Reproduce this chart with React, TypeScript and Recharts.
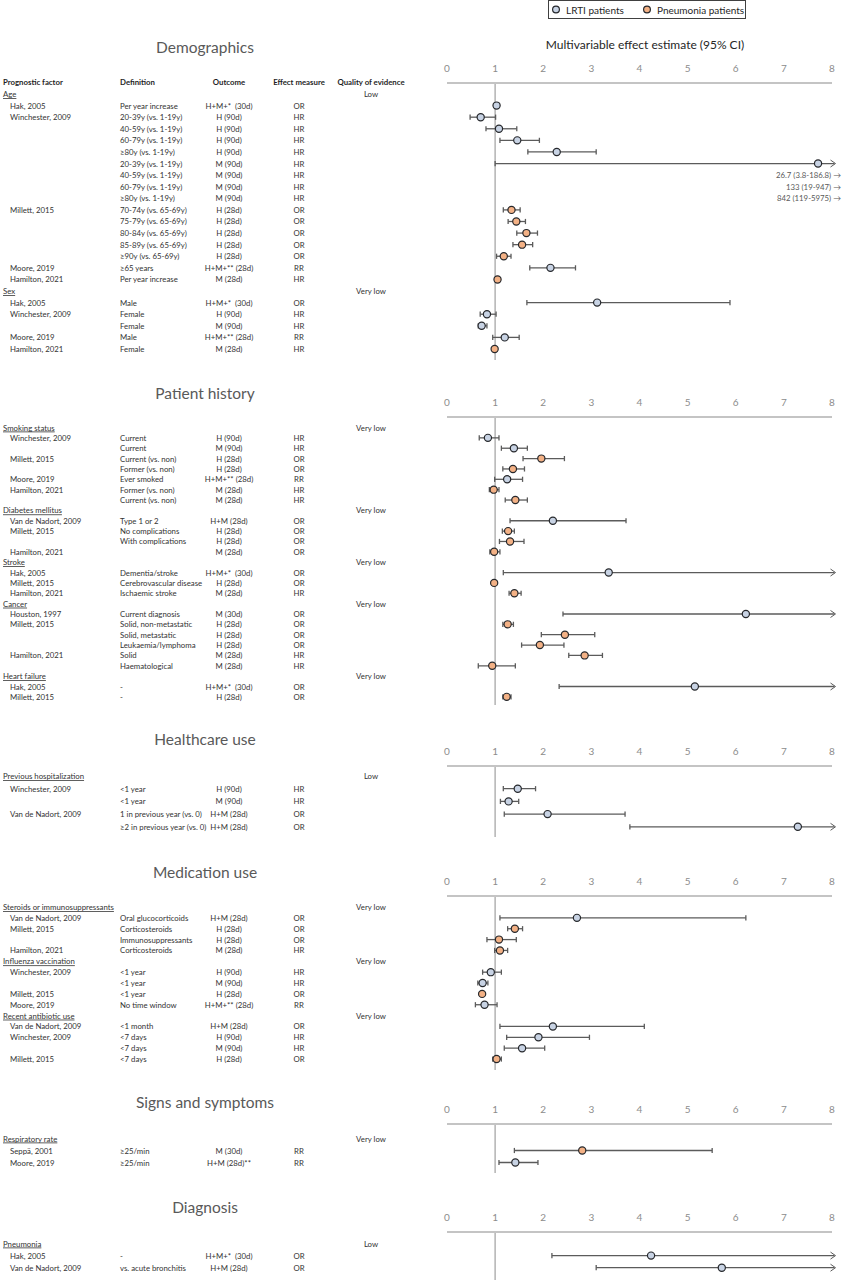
import React from "react";
import { ScatterChart, Scatter, XAxis, YAxis, ReferenceLine } from "recharts";

type Row = {
  h?: string; // group header (prognostic factor)
  q?: string; // quality of evidence
  s?: string; // study
  d?: string; // definition
  o?: string; // outcome
  m?: string; // effect measure
  g?: "lrti" | "pneu";
  est?: number;
  lo?: number;
  hi?: number | null; // null = upper limit beyond the axis
};

const X_TICKS = [0, 1, 2, 3, 4, 5, 6, 7, 8];
const X_MAX = 8;
const FONT = "Lato, 'Open Sans', sans-serif";
const FILL = { lrti: "#c8d3e4", pneu: "#f3b185" };
const INK = "#333333";

const demographicsRows: Row[] = [
  { h: "Age", q: "Low" },
  { s: "Hak, 2005", d: "Per year increase", o: "H+M+*  (30d)", m: "OR", g: "lrti", est: 1.03, lo: 1.02, hi: 1.04 },
  { s: "Winchester, 2009", d: "20-39y (vs. 1-19y)", o: "H (90d)", m: "HR", g: "lrti", est: 0.7, lo: 0.48, hi: 1.01 },
  { d: "40-59y (vs. 1-19y)", o: "H (90d)", m: "HR", g: "lrti", est: 1.08, lo: 0.81, hi: 1.45 },
  { d: "60-79y (vs. 1-19y)", o: "H (90d)", m: "HR", g: "lrti", est: 1.46, lo: 1.1, hi: 1.92 },
  { d: "≥80y (vs. 1-19y)", o: "H (90d)", m: "HR", g: "lrti", est: 2.28, lo: 1.68, hi: 3.1 },
  { d: "20-39y (vs. 1-19y)", o: "M (90d)", m: "HR", g: "lrti", est: 7.71, lo: 1.0, hi: null },
  { d: "40-59y (vs. 1-19y)", o: "M (90d)", m: "HR", g: "lrti", est: 26.7, lo: 3.8, hi: 186.8 },
  { d: "60-79y (vs. 1-19y)", o: "M (90d)", m: "HR", g: "lrti", est: 133, lo: 19, hi: 947 },
  { d: "≥80y (vs. 1-19y)", o: "M (90d)", m: "HR", g: "lrti", est: 842, lo: 119, hi: 5975 },
  { s: "Millett, 2015", d: "70-74y (vs. 65-69y)", o: "H (28d)", m: "OR", g: "pneu", est: 1.34, lo: 1.17, hi: 1.52 },
  { d: "75-79y (vs. 65-69y)", o: "H (28d)", m: "OR", g: "pneu", est: 1.44, lo: 1.27, hi: 1.63 },
  { d: "80-84y (vs. 65-69y)", o: "H (28d)", m: "OR", g: "pneu", est: 1.65, lo: 1.45, hi: 1.88 },
  { d: "85-89y (vs. 65-69y)", o: "H (28d)", m: "OR", g: "pneu", est: 1.56, lo: 1.37, hi: 1.78 },
  { d: "≥90y (vs. 65-69y)", o: "H (28d)", m: "OR", g: "pneu", est: 1.18, lo: 1.03, hi: 1.33 },
  { s: "Moore, 2019", d: "≥65 years", o: "H+M+** (28d)", m: "RR", g: "lrti", est: 2.15, lo: 1.72, hi: 2.67 },
  { s: "Hamilton, 2021", d: "Per year increase", o: "M (28d)", m: "HR", g: "pneu", est: 1.05, lo: 1.04, hi: 1.06 },
  { h: "Sex", q: "Very low" },
  { s: "Hak, 2005", d: "Male", o: "H+M+*  (30d)", m: "OR", g: "lrti", est: 3.12, lo: 1.66, hi: 5.88 },
  { s: "Winchester, 2009", d: "Female", o: "H (90d)", m: "HR", g: "lrti", est: 0.83, lo: 0.69, hi: 1.02 },
  { d: "Female", o: "M (90d)", m: "HR", g: "lrti", est: 0.72, lo: 0.65, hi: 0.83 },
  { s: "Moore, 2019", d: "Male", o: "H+M+** (28d)", m: "RR", g: "lrti", est: 1.2, lo: 0.95, hi: 1.5 },
  { s: "Hamilton, 2021", d: "Female", o: "M (28d)", m: "HR", g: "pneu", est: 0.99, lo: 0.96, hi: 1.03 },
];

const historyRows: Row[] = [
  { h: "Smoking status", q: "Very low" },
  { s: "Winchester, 2009", d: "Current", o: "H (90d)", m: "HR", g: "lrti", est: 0.85, lo: 0.67, hi: 1.08 },
  { d: "Current", o: "M (90d)", m: "HR", g: "lrti", est: 1.39, lo: 1.13, hi: 1.67 },
  { s: "Millett, 2015", d: "Current (vs. non)", o: "H (28d)", m: "OR", g: "pneu", est: 1.96, lo: 1.58, hi: 2.44 },
  { d: "Former (vs. non)", o: "H (28d)", m: "OR", g: "pneu", est: 1.37, lo: 1.16, hi: 1.61 },
  { s: "Moore, 2019", d: "Ever smoked", o: "H+M+** (28d)", m: "RR", g: "lrti", est: 1.25, lo: 0.99, hi: 1.57 },
  { s: "Hamilton, 2021", d: "Former (vs. non)", o: "M (28d)", m: "HR", g: "pneu", est: 0.97, lo: 0.88, hi: 1.08 },
  { d: "Current (vs. non)", o: "M (28d)", m: "HR", g: "pneu", est: 1.42, lo: 1.21, hi: 1.67 },
  { h: "Diabetes mellitus", q: "Very low" },
  { s: "Van de Nadort, 2009", d: "Type 1 or 2", o: "H+M (28d)", m: "OR", g: "lrti", est: 2.2, lo: 1.31, hi: 3.72 },
  { s: "Millett, 2015", d: "No complications", o: "H (28d)", m: "OR", g: "pneu", est: 1.27, lo: 1.15, hi: 1.4 },
  { d: "With complications", o: "H (28d)", m: "OR", g: "pneu", est: 1.31, lo: 1.09, hi: 1.6 },
  { s: "Hamilton, 2021", d: "", o: "M (28d)", m: "OR", g: "pneu", est: 0.98, lo: 0.89, hi: 1.1 },
  { h: "Stroke", q: "Very low" },
  { s: "Hak, 2005", d: "Dementia/stroke", o: "H+M+*  (30d)", m: "OR", g: "lrti", est: 3.36, lo: 1.17, hi: null },
  { s: "Millett, 2015", d: "Cerebrovascular disease", o: "H (28d)", m: "OR", g: "pneu", est: 0.98, lo: 0.93, hi: 1.03 },
  { s: "Hamilton, 2021", d: "Ischaemic stroke", o: "M (28d)", m: "HR", g: "pneu", est: 1.4, lo: 1.29, hi: 1.54 },
  { h: "Cancer", q: "Very low" },
  { s: "Houston, 1997", d: "Current diagnosis", o: "M (30d)", m: "OR", g: "lrti", est: 6.21, lo: 2.41, hi: null },
  { s: "Millett, 2015", d: "Solid, non-metastatic", o: "H (28d)", m: "OR", g: "pneu", est: 1.26, lo: 1.16, hi: 1.38 },
  { d: "Solid, metastatic", o: "H (28d)", m: "OR", g: "pneu", est: 2.45, lo: 1.96, hi: 3.07 },
  { d: "Leukaemia/lymphoma", o: "H (28d)", m: "OR", g: "pneu", est: 1.93, lo: 1.55, hi: 2.43 },
  { s: "Hamilton, 2021", d: "Solid", o: "M (28d)", m: "HR", g: "pneu", est: 2.86, lo: 2.53, hi: 3.23 },
  { d: "Haematological", o: "M (28d)", m: "HR", g: "pneu", est: 0.94, lo: 0.65, hi: 1.42 },
  { h: "Heart failure", q: "Very low" },
  { s: "Hak, 2005", d: "-", o: "H+M+*  (30d)", m: "OR", g: "lrti", est: 5.15, lo: 2.33, hi: null },
  { s: "Millett, 2015", d: "-", o: "H (28d)", m: "OR", g: "pneu", est: 1.24, lo: 1.16, hi: 1.33 },
];

const healthcareRows: Row[] = [
  { h: "Previous hospitalization", q: "Low" },
  { s: "Winchester, 2009", d: "<1 year", o: "H (90d)", m: "HR", g: "lrti", est: 1.47, lo: 1.17, hi: 1.84 },
  { d: "<1 year", o: "M (90d)", m: "HR", g: "lrti", est: 1.28, lo: 1.11, hi: 1.49 },
  { s: "Van de Nadort, 2009", d: "1 in previous year (vs. 0)", o: "H+M (28d)", m: "OR", g: "lrti", est: 2.09, lo: 1.19, hi: 3.7 },
  { d: "≥2 in previous year (vs. 0)", o: "H+M (28d)", m: "OR", g: "lrti", est: 7.29, lo: 3.8, hi: null },
];

const medicationRows: Row[] = [
  { h: "Steroids or immunosuppressants", q: "Very low" },
  { s: "Van de Nadort, 2009", d: "Oral glucocorticoids", o: "H+M (28d)", m: "OR", g: "lrti", est: 2.7, lo: 1.1, hi: 6.21 },
  { s: "Millett, 2015", d: "Corticosteroids", o: "H (28d)", m: "OR", g: "pneu", est: 1.41, lo: 1.26, hi: 1.57 },
  { d: "Immunosuppressants", o: "H (28d)", m: "OR", g: "pneu", est: 1.08, lo: 0.83, hi: 1.44 },
  { s: "Hamilton, 2021", d: "Corticosteroids", o: "M (28d)", m: "HR", g: "pneu", est: 1.1, lo: 0.99, hi: 1.26 },
  { h: "Influenza vaccination", q: "Very low" },
  { s: "Winchester, 2009", d: "<1 year", o: "H (90d)", m: "HR", g: "lrti", est: 0.91, lo: 0.74, hi: 1.13 },
  { d: "<1 year", o: "M (90d)", m: "HR", g: "lrti", est: 0.74, lo: 0.64, hi: 0.85 },
  { s: "Millett, 2015", d: "<1 year", o: "H (28d)", m: "OR", g: "pneu", est: 0.73, lo: 0.69, hi: 0.77 },
  { s: "Moore, 2019", d: "No time window", o: "H+M+** (28d)", m: "RR", g: "lrti", est: 0.78, lo: 0.59, hi: 1.04 },
  { h: "Recent antibiotic use", q: "Very low" },
  { s: "Van de Nadort, 2009", d: "<1 month", o: "H+M (28d)", m: "OR", g: "lrti", est: 2.2, lo: 1.1, hi: 4.1 },
  { s: "Winchester, 2009", d: "<7 days", o: "H (90d)", m: "HR", g: "lrti", est: 1.9, lo: 1.24, hi: 2.96 },
  { d: "<7 days", o: "M (90d)", m: "HR", g: "lrti", est: 1.56, lo: 1.19, hi: 2.03 },
  { s: "Millett, 2015", d: "<7 days", o: "H (28d)", m: "OR", g: "pneu", est: 1.03, lo: 0.95, hi: 1.13 },
];

const signsRows: Row[] = [
  { h: "Respiratory rate", q: "Very low" },
  { s: "Seppä, 2001", d: "≥25/min", o: "M (30d)", m: "RR", g: "pneu", est: 2.81, lo: 1.4, hi: 5.51 },
  { s: "Moore, 2019", d: "≥25/min", o: "H+M (28d)**", m: "RR", g: "lrti", est: 1.42, lo: 1.08, hi: 1.89 },
];

const diagnosisRows: Row[] = [
  { h: "Pneumonia", q: "Low" },
  { s: "Hak, 2005", d: "-", o: "H+M+*  (30d)", m: "OR", g: "lrti", est: 4.24, lo: 2.18, hi: null },
  { s: "Van de Nadort, 2009", d: "vs. acute bronchitis", o: "H+M (28d)", m: "OR", g: "lrti", est: 5.71, lo: 3.1, hi: null },
];

// page layout (pixels): title, axis line, first row centre, row pitch, end of panel
const sections = [
  { title: "Demographics", rows: demographicsRows, titleY: 47, axisY: 83, firstY: 94, pitch: 11.59, bottomY: 360 },
  { title: "Patient history", rows: historyRows, titleY: 393, axisY: 417, firstY: 427.5, pitch: 10.36, bottomY: 705 },
  { title: "Healthcare use", rows: healthcareRows, titleY: 739, axisY: 766, firstY: 776, pitch: 12.7, bottomY: 837 },
  { title: "Medication use", rows: medicationRows, titleY: 872, axisY: 896, firstY: 907, pitch: 10.86, bottomY: 1070 },
  { title: "Signs and symptoms", rows: signsRows, titleY: 1102, axisY: 1124, firstY: 1138.5, pitch: 12, bottomY: 1173 },
  { title: "Diagnosis", rows: diagnosisRows, titleY: 1207, axisY: 1232, firstY: 1243.5, pitch: 12.1, bottomY: 1280 },
];

type Section = (typeof sections)[number];

const AXIS_H = 30;

function CiLine({ x1, y1, x2, y2, open }: any) {
  const c = 2.6;
  return (
    <g stroke="#5b5b5b" strokeWidth={1.3} fill="none">
      <line x1={x1} y1={y1} x2={open ? x2 + 2.5 : x2} y2={y2} />
      <line x1={x1} y1={y1 - c} x2={x1} y2={y1 + c} />
      {open ? (
        <polyline points={`${x2 - 1.5},${y2 - 3.5} ${x2 + 3.5},${y2} ${x2 - 1.5},${y2 + 3.5}`} strokeWidth={1} />
      ) : (
        <line x1={x2} y1={y2 - c} x2={x2} y2={y2 + c} />
      )}
    </g>
  );
}

function Dot({ cx, cy, g }: any) {
  return <circle cx={cx} cy={cy} r={3.6} fill={FILL[g as "lrti" | "pneu"]} stroke="#26282c" strokeWidth={1.2} />;
}

function ForestPlot({ sec }: { sec: Section }) {
  const { rows, axisY, firstY, pitch, bottomY } = sec;
  const yMin = -(firstY - axisY) / pitch;
  const yMax = (bottomY - firstY) / pitch;
  const items = rows.map((r, i) => ({ ...r, y: i })).filter((r) => r.est != null);
  const onScale = items.filter((r) => (r.est as number) <= X_MAX);
  const offScale = items.filter((r) => (r.est as number) > X_MAX);
  const lrti = onScale.filter((r) => r.g === "lrti").map((r) => ({ x: r.est, y: r.y }));
  const pneu = onScale.filter((r) => r.g === "pneu").map((r) => ({ x: r.est, y: r.y }));

  return (
    <div style={{ position: "absolute", left: 420, top: axisY - AXIS_H }}>
      <ScatterChart
        width={424}
        height={AXIS_H + bottomY - axisY}
        margin={{ top: 0, right: 12, bottom: 0, left: 27 }}
      >
        <XAxis
          type="number"
          dataKey="x"
          orientation="top"
          domain={[0, X_MAX]}
          ticks={X_TICKS}
          allowDataOverflow
          height={AXIS_H}
          axisLine={{ stroke: "#c4c4c4", strokeWidth: 2 }}
          tickLine={false}
          tickMargin={5}
          tick={{ fill: "#8c8c8c", fontSize: 10, fontFamily: FONT }}
        />
        <YAxis type="number" dataKey="y" hide reversed domain={[yMin, yMax]} allowDataOverflow />
        <ReferenceLine x={1} stroke="#b3b3b3" strokeWidth={1.5} />
        {onScale.map((r) => (
          <ReferenceLine
            key={`ci${r.y}`}
            ifOverflow="visible"
            segment={[
              { x: r.lo, y: r.y },
              { x: r.hi == null ? X_MAX : r.hi, y: r.y },
            ]}
            shape={(p: any) => <CiLine {...p} open={r.hi == null} />}
          />
        ))}
        {offScale.map((r) => (
          <ReferenceLine
            key={`off${r.y}`}
            ifOverflow="visible"
            segment={[
              { x: X_MAX, y: r.y },
              { x: X_MAX, y: r.y },
            ]}
            shape={(p: any) => (
              <text
                x={p.x2 + 9}
                y={p.y2}
                textAnchor="end"
                dominantBaseline="central"
                fontSize={7.8}
                fontFamily={FONT}
                fill="#595959"
              >
                {`${r.est} (${r.lo}-${r.hi}) →`}
              </text>
            )}
          />
        ))}
        <Scatter data={lrti} isAnimationActive={false} shape={(p: any) => <Dot {...p} g="lrti" />} />
        <Scatter data={pneu} isAnimationActive={false} shape={(p: any) => <Dot {...p} g="pneu" />} />
      </ScatterChart>
    </div>
  );
}

function Table({ sec, header }: { sec: Section; header: boolean }) {
  const { rows, firstY, pitch, title, titleY } = sec;
  const t = { dominantBaseline: "central" as const, fill: INK };
  return (
    <g fontFamily={FONT} fontSize={7.8}>
      <text x={205} y={titleY} textAnchor="middle" dominantBaseline="central" fontSize={15.5} fill="#595959">
        {title}
      </text>
      {header && (
        <g fontWeight={700}>
          <text x={3} y={82} {...t} fill="#1f1f1f">Prognostic factor</text>
          <text x={120} y={82} {...t} fill="#1f1f1f">Definition</text>
          <text x={229} y={82} {...t} fill="#1f1f1f" textAnchor="middle">Outcome</text>
          <text x={299} y={82} {...t} fill="#1f1f1f" textAnchor="middle">Effect measure</text>
          <text x={371} y={82} {...t} fill="#1f1f1f" textAnchor="middle">Quality of evidence</text>
        </g>
      )}
      {rows.map((r, i) => {
        const y = firstY + i * pitch;
        if (r.h) {
          return (
            <g key={i}>
              <text x={3} y={y} {...t} textDecoration="underline">{r.h}</text>
              <text x={371} y={y} {...t} textAnchor="middle">{r.q}</text>
            </g>
          );
        }
        return (
          <g key={i}>
            {r.s && <text x={10} y={y} {...t}>{r.s}</text>}
            {r.d && <text x={120} y={y} {...t} style={{ whiteSpace: "pre" }}>{r.d}</text>}
            <text x={229} y={y} {...t} textAnchor="middle" style={{ whiteSpace: "pre" }}>{r.o}</text>
            <text x={299} y={y} {...t} textAnchor="middle">{r.m}</text>
          </g>
        );
      })}
    </g>
  );
}

export default function App() {
  return (
    <div style={{ position: "relative", width: 844, height: 1280, background: "#fff", overflow: "hidden" }}>
      <style>{"body{margin:0}"}</style>
      <svg width={844} height={1280} style={{ position: "absolute", left: 0, top: 0 }}>
        {sections.map((sec, i) => (
          <Table key={sec.title} sec={sec} header={i === 0} />
        ))}
        <text x={645} y={44} textAnchor="middle" dominantBaseline="central" fontFamily={FONT} fontSize={12} fill="#262626">
          Multivariable effect estimate (95% CI)
        </text>
        <g fontFamily={FONT} fontSize={10}>
          <rect x={548.5} y={0.5} width={197} height={18} fill="#fff" stroke="#404040" strokeWidth={1} />
          <circle cx={556} cy={9.5} r={3.4} fill={FILL.lrti} stroke="#26282c" strokeWidth={1.2} />
          <text x={566} y={9.5} dominantBaseline="central" fill="#262626">LRTI patients</text>
          <circle cx={647} cy={9.5} r={3.4} fill={FILL.pneu} stroke="#26282c" strokeWidth={1.2} />
          <text x={657} y={9.5} dominantBaseline="central" fill="#262626">Pneumonia patients</text>
        </g>
      </svg>
      {sections.map((sec) => (
        <ForestPlot key={sec.title} sec={sec} />
      ))}
    </div>
  );
}
